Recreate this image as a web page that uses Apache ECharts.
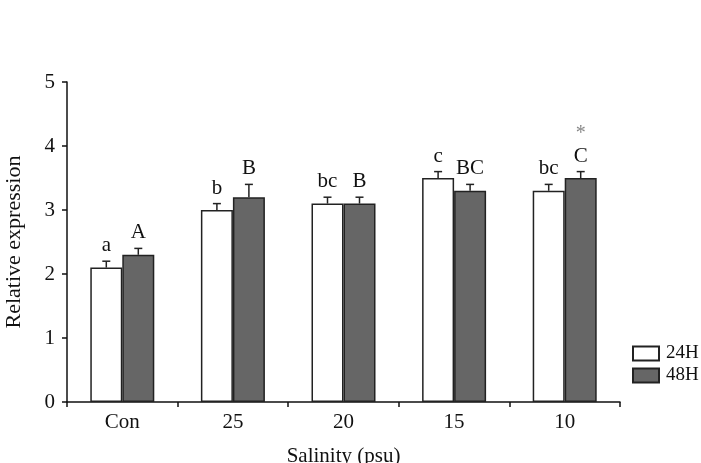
<!DOCTYPE html>
<html>
<head>
<meta charset="utf-8">
<script src="https://cdn.jsdelivr.net/npm/echarts@6/dist/echarts.min.js"></script>
<style>
  html, body { margin: 0; padding: 0; background: #fff; }
  #chart { width: 701px; height: 463px; }
</style>
</head>
<body>
<div id="chart"></div>
<script>
// 염분 농도별 상대 발현량
var categories = ['Con', '25', '20', '15', '10'];
var h24 = [2.1, 3.0, 3.1, 3.5, 3.3];
var h48 = [2.3, 3.2, 3.1, 3.3, 3.5];
var err24 = [0.1, 0.1, 0.1, 0.1, 0.1];
var err48 = [0.1, 0.2, 0.1, 0.1, 0.1];
var sig24 = ['a', 'b', 'bc', 'c', 'bc'];
var sig48 = ['A', 'B', 'B', 'BC', 'C'];
var star48 = ['', '', '', '', '*'];
var yTicks = [0, 1, 2, 3, 4, 5];

var serif = 'Liberation Serif';
var BAR_W = 32;

function errData(vals, errs, sigs, stars) {
  return vals.map(function (v, i) {
    return [i, v, errs[i], sigs[i], stars ? stars[i] : ''];
  });
}

// 오차막대 + 유의성 문자
function makeErrRender(offset) {
  return function (params, api) {
    var idx = api.value(0);
    var v = api.value(1);
    var e = api.value(2);
    var p0 = api.coord([idx, v]);
    var p1 = api.coord([idx, v + e]);
    var x = p0[0] + offset;
    var items = [
      { type: 'line', shape: { x1: x, y1: p0[1], x2: x, y2: p1[1] },
        style: { stroke: '#222', lineWidth: 1.5 } },
      { type: 'line', shape: { x1: x - 4, y1: p1[1], x2: x + 4, y2: p1[1] },
        style: { stroke: '#222', lineWidth: 1.5 } },
      { type: 'text', x: x, y: p1[1] - 5,
        style: { text: api.value(3), fill: '#111', font: '21px "' + serif + '"',
                 align: 'center', verticalAlign: 'bottom' } }
    ];
    var star = api.value(4);
    if (star) {
      items.push({ type: 'text', x: x, y: p1[1] - 28,
        style: { text: star, fill: '#888', font: '20px "' + serif + '"',
                 align: 'center', verticalAlign: 'bottom' } });
    }
    return { type: 'group', children: items };
  };
}

var chart = echarts.init(document.getElementById('chart'));
chart.setOption({
  animation: false,
  backgroundColor: '#fff',
  grid: { left: 67, right: 81, top: 82, bottom: 61, outerBoundsMode: 'none', containLabel: false },
  legend: {
    data: ['24H', '48H'],
    orient: 'vertical',
    left: 627, top: 339,
    icon: 'rect',
    itemWidth: 26, itemHeight: 14, itemGap: 3,
    textStyle: { fontFamily: serif, fontSize: 19, color: '#111', padding: [0, 0, 0, 2] }
  },
  xAxis: {
    type: 'category',
    data: categories,
    name: 'Salinity (psu)',
    nameLocation: 'middle',
    nameGap: 44,
    nameTextStyle: { fontFamily: serif, fontSize: 21, color: '#111' },
    axisLine: { lineStyle: { color: '#111', width: 1.5 } },
    axisTick: { show: true, length: 5, lineStyle: { color: '#111', width: 1.5 } },
    axisLabel: { fontFamily: serif, fontSize: 21, color: '#111', margin: 10 }
  },
  yAxis: {
    type: 'value',
    min: 0, max: 5, interval: 1,
    name: 'Relative expression',
    nameLocation: 'middle',
    nameGap: 42,
    nameTextStyle: { fontFamily: serif, fontSize: 22, color: '#111' },
    axisLine: { show: true, lineStyle: { color: '#111', width: 1.5 } },
    axisTick: { show: true, length: 5, lineStyle: { color: '#111', width: 1.5 } },
    axisLabel: { fontFamily: serif, fontSize: 21, color: '#111', margin: 12,
      formatter: function (v) { return yTicks.indexOf(v) >= 0 ? String(v) : ''; } },
    splitLine: { show: false }
  },
  series: [
    {
      name: '24H', type: 'bar', data: h24, barWidth: BAR_W, barGap: '0%',
      itemStyle: { color: '#fff', borderColor: '#222', borderWidth: 1.5 }
    },
    {
      name: '48H', type: 'bar', data: h48, barWidth: BAR_W, barGap: '0%',
      itemStyle: { color: '#666', borderColor: '#222', borderWidth: 1.5 }
    },
    {
      type: 'custom', name: 'err24', renderItem: makeErrRender(-BAR_W / 2),
      data: errData(h24, err24, sig24), encode: { x: 0, y: 1 }, z: 5
    },
    {
      type: 'custom', name: 'err48', renderItem: makeErrRender(BAR_W / 2),
      data: errData(h48, err48, sig48, star48), encode: { x: 0, y: 1 }, z: 5
    }
  ]
});
</script>
</body>
</html>
